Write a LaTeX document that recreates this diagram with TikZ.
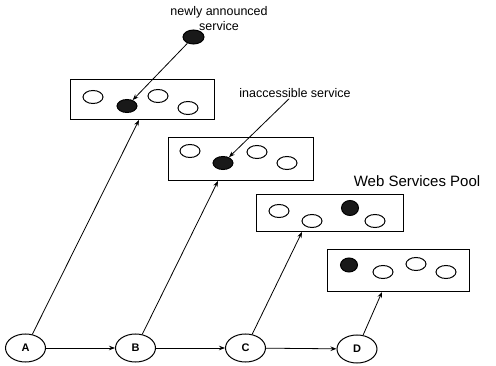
\documentclass[tikz,border=0pt]{standalone}
\usepackage{fontspec}
\setmainfont{Liberation Sans}
\usetikzlibrary{shapes.geometric,arrows.meta}
\begin{document}
\begin{tikzpicture}[x=1pt,y=-1pt,
  state/.style={draw,ellipse,line width=1pt,minimum width=40pt,minimum height=28pt,inner sep=0pt,font=\fontsize{11}{13}\selectfont\bfseries},
  poolbox/.style={draw,rectangle,line width=1pt,inner sep=0pt},
  svc/.style={draw,ellipse,line width=1pt,minimum width=20pt,minimum height=13pt,inner sep=0pt},
  svcf/.style={svc,fill=black!90},
  conn/.style={line width=0.8pt,-{Stealth[length=6pt,width=4.5pt]}},
  lbl/.style={font=\fontsize{12.5}{15}\selectfont,inner sep=1pt,align=center}
]
\useasboundingbox (0,0) rectangle (496,366);

% state nodes
\node[state] (A) at (25.5,348) {A};
\node[state] (B) at (135.5,348) {B};
\node[state] (C) at (245.5,348) {C};
\node[state] (D) at (357,349) {D};

% pool boxes
\node[poolbox,minimum width=144pt,minimum height=40pt] (p1) at (142,100) {};
\node[poolbox,minimum width=145pt,minimum height=43pt] (p2) at (240.5,159.5) {};
\node[poolbox,minimum width=147pt,minimum height=37pt] (p3) at (329.5,213.5) {};
\node[poolbox,minimum width=142pt,minimum height=42pt] (p4) at (398,271) {};

% services in box 1
\node[svc]  (s11) at (93,97) {};
\node[svcf] (s12) at (127,106) {};
\node[svc]  (s13) at (158,96) {};
\node[svc]  (s14) at (188,108) {};
% box 2
\node[svc]  (s21) at (190,151) {};
\node[svcf] (s22) at (223,163) {};
\node[svc]  (s23) at (257,152) {};
\node[svc]  (s24) at (287,163) {};
% box 3
\node[svc]  (s31) at (279,211) {};
\node[svc]  (s32) at (312,221) {};
\node[svcf,minimum width=17pt,minimum height=15pt] (s33) at (350,208) {};
\node[svc]  (s34) at (375,221) {};
% box 4
\node[svcf,minimum width=17pt,minimum height=14pt] (s41) at (349,265) {};
\node[svc]  (s42) at (383,272) {};
\node[svc]  (s43) at (416,264) {};
\node[svc]  (s44) at (446,272) {};

% new service
\node[svcf,minimum width=21pt,minimum height=14pt] (new) at (193.5,37) {};

% labels
\node[lbl] (lnew) at (219,19) {newly announced\\service};
\node[lbl] (linac) at (295,93) {inaccessible service};
\node[font=\fontsize{15}{18}\selectfont,inner sep=1pt] (ltitle) at (417,181) {Web Services Pool};

% targets on box bottoms
\coordinate (t1) at (139,120);
\coordinate (t2) at (218,181);
\coordinate (t3) at (302,232);
\coordinate (t4) at (382,292);

% connectors
\draw[conn] (A) -- (B);
\draw[conn] (B) -- (C);
\draw[conn] (C) -- (D);
\draw[conn] (A) -- (t1);
\draw[conn] (B) -- (t2);
\draw[conn] (C) -- (t3);
\draw[conn] (D) -- (t4);
\draw[conn] (new) -- (s12);
\draw[conn] (linac) -- (s22);
\end{tikzpicture}
\end{document}
